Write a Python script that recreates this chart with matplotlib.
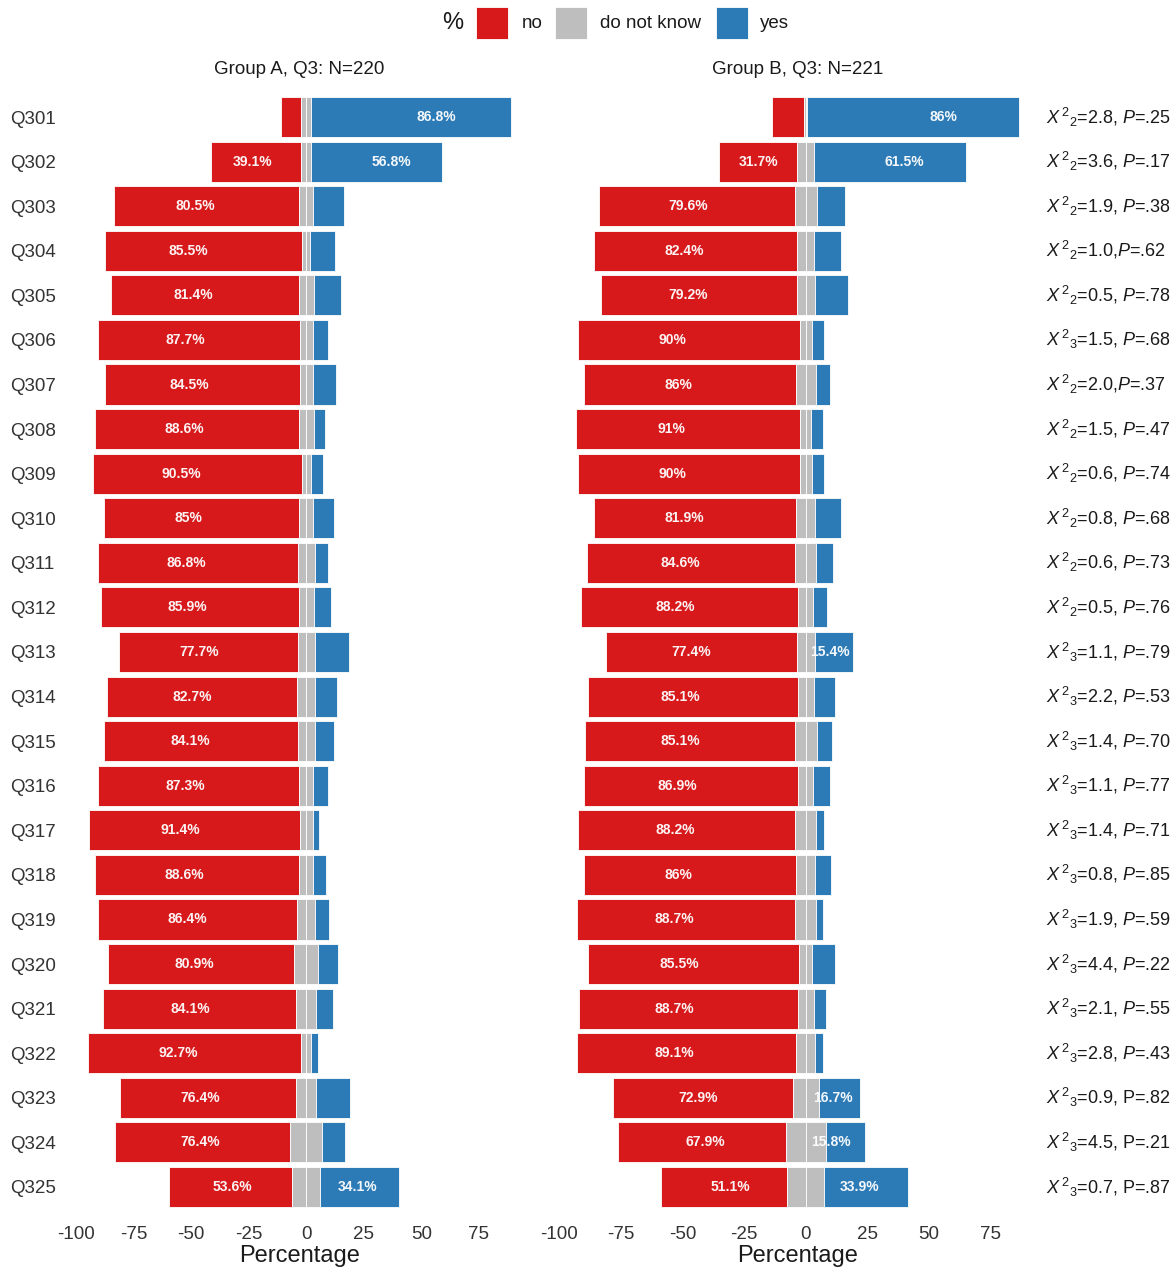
import matplotlib
matplotlib.use("Agg")
import matplotlib.pyplot as plt
from matplotlib.patches import Rectangle
import numpy as np

plt.rcParams['font.family'] = ['Liberation Sans', 'DejaVu Sans']
plt.rcParams['mathtext.fontset'] = 'custom'
plt.rcParams['mathtext.rm'] = 'Liberation Sans'
plt.rcParams['mathtext.it'] = 'Liberation Sans:italic'
plt.rcParams['axes.unicode_minus'] = False

# ---- data -------------------------------------------------------------
questions = [f"Q3{i:02d}" for i in range(1, 26)]
responses = ["no", "do not know", "yes"]

groupA_title = "Group A, Q3: N=220"
groupA_no = [8.9, 39.1, 80.5, 85.5, 81.4, 87.7, 84.5, 88.6, 90.5, 85.0, 86.8, 85.9, 77.7,
             82.7, 84.1, 87.3, 91.4, 88.6, 86.4, 80.9, 84.1, 92.7, 76.4, 76.4, 53.6]
groupA_dnk = [4.3, 4.1, 6.0, 3.6, 6.6, 5.5, 5.5, 6.4, 4.0, 6.0, 7.3, 6.6, 7.5,
              7.6, 7.5, 6.1, 5.8, 6.0, 7.7, 10.7, 8.6, 4.1, 8.9, 13.7, 12.3]
groupA_yes = [86.8, 56.8, 13.5, 10.9, 12.0, 6.8, 10.0, 5.0, 5.5, 9.0, 5.9, 7.5, 14.8,
              9.7, 8.4, 6.6, 2.8, 5.4, 5.9, 8.4, 7.3, 3.2, 14.7, 9.9, 34.1]

groupB_title = "Group B, Q3: N=221"
groupB_no = [13.0, 31.7, 79.6, 82.4, 79.2, 90.0, 86.0, 91.0, 90.0, 81.9, 84.6, 88.2, 77.4,
             85.1, 85.1, 86.9, 88.2, 86.0, 88.7, 85.5, 88.7, 89.1, 72.9, 67.9, 51.1]
groupB_dnk = [1.0, 6.8, 8.8, 6.9, 7.4, 5.0, 8.1, 4.3, 5.0, 7.9, 8.3, 6.2, 7.2,
              6.4, 8.8, 6.3, 8.4, 7.8, 8.6, 5.4, 6.5, 7.7, 10.4, 16.3, 15.0]
groupB_yes = [86.0, 61.5, 11.6, 10.7, 13.4, 5.0, 5.9, 4.7, 5.0, 10.2, 7.1, 5.6, 15.4,
              8.5, 6.1, 6.8, 3.4, 6.2, 2.7, 9.1, 4.8, 3.2, 16.7, 15.8, 33.9]

chi2 = [2.8, 3.6, 1.9, 1.0, 0.5, 1.5, 2.0, 1.5, 0.6, 0.8, 0.6, 0.5, 1.1,
        2.2, 1.4, 1.1, 1.4, 0.8, 1.9, 4.4, 2.1, 2.8, 0.9, 4.5, 0.7]
chi_df = [2, 2, 2, 2, 2, 3, 2, 2, 2, 2, 2, 2, 3, 3, 3, 3, 3, 3, 3, 3, 3, 3, 3, 3, 3]
p_values = [0.25, 0.17, 0.38, 0.62, 0.78, 0.68, 0.37, 0.47, 0.74, 0.68, 0.73, 0.76, 0.79,
            0.53, 0.70, 0.77, 0.71, 0.85, 0.59, 0.22, 0.55, 0.43, 0.82, 0.21, 0.87]
p_italic = [True] * 22 + [False] * 3
tight_comma = ["Q304", "Q307"]

x_ticks = [-100, -75, -50, -25, 0, 25, 50, 75]

# ---- style ------------------------------------------------------------
RED, GREY, BLUE = "#D7191C", "#BEBEBE", "#2C7BB6"
TXT = "#1A1A1A"
AX_TXT = "#333333"
LABEL_MIN = 15

W, H = 1175, 1267
fig = plt.figure(figsize=(W / 100, H / 100), dpi=100)


def fx(x):
    return x / W


def fy(y):
    return 1 - y / H


def panel_axes(x0, x1, top=90.3, bottom=1213.7):
    return fig.add_axes([fx(x0), fy(bottom), (x1 - x0) / W, (bottom - top) / H])


def fmt_pct(v):
    return f"{round(v, 1):g}%"


def draw_panel(ax, no, dnk, yes, show_labels):
    no, dnk, yes = map(np.asarray, (no, dnk, yes))
    y = np.arange(len(no))
    half = dnk / 2
    kw = dict(height=0.9, edgecolor="white", linewidth=0.6)
    ax.barh(y, -no, left=-half, color=RED, **kw)
    ax.barh(y, -half, left=0, color=GREY, **kw)
    ax.barh(y, half, left=0, color=GREY, **kw)
    ax.barh(y, yes, left=half, color=BLUE, **kw)

    lo = (-(half + no)).min()
    hi = (half + yes).max()
    pad = 0.05 * (hi - lo)
    ax.set_xlim(lo - pad, hi + pad)
    ax.set_ylim(len(no) - 0.4, -0.6)

    lab_kw = dict(ha="center", va="center", color="white", fontsize=10,
                  fontweight="bold", alpha=0.95)
    for i in range(len(no)):
        if no[i] >= LABEL_MIN:
            ax.text(-0.6 * no[i], i, fmt_pct(no[i]), **lab_kw)
        if yes[i] >= LABEL_MIN:
            ax.text(0.65 * yes[i], i, fmt_pct(yes[i]), **lab_kw)

    for s in ax.spines.values():
        s.set_visible(False)
    ax.set_xticks(x_ticks)
    ax.set_xticklabels([str(t) for t in x_ticks], fontsize=13.5, color=AX_TXT)
    ax.tick_params(axis="x", length=0, pad=8.5)
    ax.set_facecolor("white")
    if show_labels:
        ax.set_yticks(y)
        ax.set_yticklabels(questions, fontsize=13.5, color=AX_TXT, ha="left")
        ax.tick_params(axis="y", length=0, pad=41.2)
    else:
        ax.set_yticks([])


axA = panel_axes(67, 532)
axB = panel_axes(554, 1041)
draw_panel(axA, groupA_no, groupA_dnk, groupA_yes, True)
draw_panel(axB, groupB_no, groupB_dnk, groupB_yes, False)

# facet titles and axis titles
for ax, title, (x0, x1) in [(axA, groupA_title, (67, 532)), (axB, groupB_title, (554, 1041))]:
    cx = (x0 + x1) / 2
    fig.text(fx(cx), fy(69.5), title, ha="center", va="center", fontsize=13.5, color=TXT)
    fig.text(fx(cx), fy(1256), "Percentage", ha="center", va="center", fontsize=17, color=TXT)

# test statistics beside the second panel
for i, q in enumerate(questions):
    p_txt = f"{p_values[i]:.2f}".lstrip("0")
    p_sym = r"$\mathit{P}$" if p_italic[i] else "P"
    sep = "," if q in tight_comma else ", "
    label = (r"${\mathit{X}^{\,2}}_{%d}$=%.1f%s%s=%s"
             % (chi_df[i], chi2[i], sep, p_sym, p_txt))
    axB.annotate(label, xy=(1.0, i), xycoords=axB.get_yaxis_transform(),
                 xytext=(5, 0), textcoords="offset pixels",
                 ha="left", va="center", fontsize=13, color=TXT,
                 annotation_clip=False)

# legend across the top
leg_y = 23
fig.text(fx(453), fy(leg_y), "%", ha="center", va="center", fontsize=17, color=TXT)
for (x0, color, name, tx) in [(476, RED, responses[0], 522),
                              (555, GREY, responses[1], 600),
                              (716, BLUE, responses[2], 760)]:
    fig.patches.append(Rectangle((fx(x0), fy(leg_y + 16)), 32 / W, 32 / H,
                                 transform=fig.transFigure, facecolor=color,
                                 edgecolor="white", linewidth=0.6))
    fig.text(fx(tx), fy(leg_y), name, ha="left", va="center", fontsize=13.5, color=TXT)

fig.savefig("out.png", dpi=100, facecolor="white")
